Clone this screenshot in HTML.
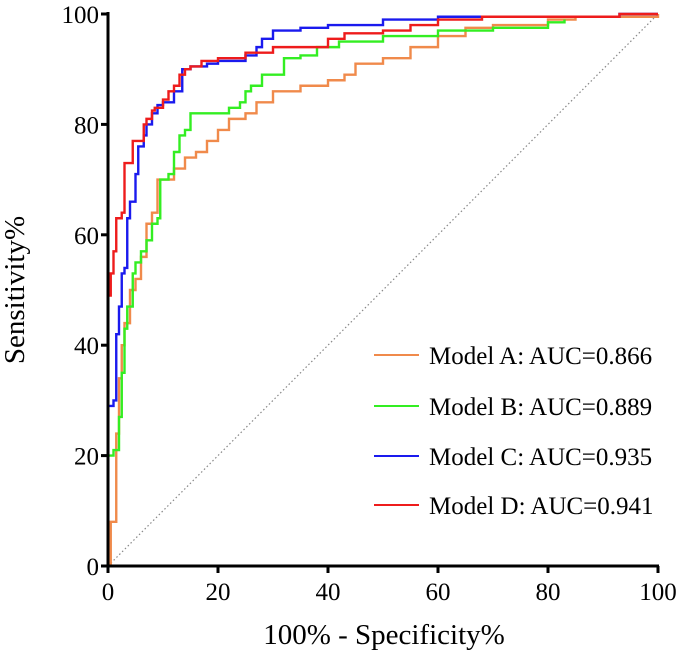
<!DOCTYPE html>
<html><head><meta charset="utf-8"><style>
body{margin:0;background:#fff}
svg text{font-family:"Liberation Serif","DejaVu Serif",serif;fill:#000}
</style></head><body>
<svg width="685" height="663" viewBox="0 0 685 663">
<g id="plot"></g>
</svg>
<script>
const xTicks=[0,20,40,60,80,100];
const yTicks=[0,20,40,60,80,100];
const names=["Model A: AUC=0.866","Model B: AUC=0.889","Model C: AUC=0.935","Model D: AUC=0.941"];
const colors=["#f08a4b","#33ee22","#1a1aee","#ee1c1c"];
const fprA=[0,0.5,1.5,1.5,2,2.5,3,4,5,6,7,8,9,10,12,14,16,18,20,22,25,27,30,35,40,43,45,50,55,60,65,70,80,85,100];
const tprA=[0,8,8,24,34,40,44,50,52,56,62,64,70,70,72,74,75,77,79,81,82,84,86,87,88,89,91,92,94,96,97.5,98,99,99.5,100];
const fprB=[0,0,1,2,2.5,3,3.5,4.5,5,6,7,8,9,9.5,11,12,13,14,15,20,22,24,25,26,28,32,35,38,42,50,60,70,80,83];
const tprB=[0,20,21,27,35,43,47,53,55,57,59,62,63,70,71,75,78,79,82,82,83,84,86,87,89,92,92.5,94,95,96,97,97.5,98.5,99];
const fprC=[0,0,1,1.5,2,2.5,3,3.5,4,5,5.5,6.5,7,8,9,10,12,13.5,15,18,20,25,27,28,30,35,40,50,60,93,100];
const tprC=[0,29,30,42,47,53,54,63,66,71,76,78,80,82,83.5,84,86,90,90.5,91,91.5,92.5,94,95.5,97,97.5,98,99,99.5,100,100];
const fprD=[0,0,0.5,1,1.5,2.5,3,4.5,6.5,7,8,8.5,10,11,12,13,14,15,17,20,25,30,40,43,50,55,60,68,93,100];
const tprD=[0,49,53,57,63,64,73,77,80,81,82.5,83,84.5,86,87,89,90,90.5,91.5,92,93,94,95.5,96.5,97,98,99,99.5,100,100];
const series=[[fprA,tprA],[fprB,tprB],[fprC,tprC],[fprD,tprD]];
const X0=108,X1=658,Y0=566,Y1=14;
const sx=v=>X0+(X1-X0)*v/100, sy=v=>Y0-(Y0-Y1)*v/100;
const NS="http://www.w3.org/2000/svg";
const FF='"Liberation Serif","DejaVu Serif",serif';
const g=document.getElementById('plot');
function mk(t,a,p){const e=document.createElementNS(NS,t);for(const k in a)e.setAttribute(k,a[k]);(p||g).appendChild(e);return e;}
const diag=mk('line',{x1:sx(0),y1:sy(0),x2:sx(100),y2:sy(100),stroke:'#888','stroke-width':1.2,'stroke-dasharray':'1.5,2.5'});


series.forEach((s,i)=>{
  const [fx,ty]=s;let pts=[];
  for(let j=0;j<fx.length;j++){
    if(j>0)pts.push(sx(fx[j])+','+sy(ty[j-1]));
    pts.push(sx(fx[j])+','+sy(ty[j]));
  }
  const pl=mk('polyline',{points:pts.join(' '),fill:'none',stroke:colors[i],'stroke-width':2.4});
  
  
});
const ax=mk('path',{d:`M${X0} ${Y1-2}V${Y0}H${X1+1}`,fill:'none',stroke:'#000','stroke-width':3});


xTicks.forEach(v=>{
  mk('line',{x1:sx(v),x2:sx(v),y1:Y0,y2:Y0+7,stroke:'#000','stroke-width':3});
  const t=mk('text',{x:sx(v),y:Y0+34,'text-anchor':'middle','font-size':25,'font-family':FF});
  t.textContent=v;
  
  
});
yTicks.forEach(v=>{
  mk('line',{x1:X0-7,x2:X0,y1:sy(v),y2:sy(v),stroke:'#000','stroke-width':3});
  const t=mk('text',{x:X0-9,y:sy(v)+9,'text-anchor':'end','font-size':25,'font-family':FF});
  t.textContent=v;
  
  
});
const xt=mk('text',{x:384,y:644,'text-anchor':'middle','font-size':29,'font-family':FF});
xt.textContent='100% - Specificity%';


const yt=mk('text',{x:0,y:0,'text-anchor':'middle','font-size':29,'font-family':FF,transform:'translate(24,290) rotate(-90)'});
yt.textContent='Sensitivity%';


const ly=[355,406,456,505];
names.forEach((n,i)=>{
  const l=mk('line',{x1:374,x2:419,y1:ly[i],y2:ly[i],stroke:colors[i],'stroke-width':2});
  
  
  const t=mk('text',{x:429,y:ly[i]+9,'font-size':25,'font-family':FF});
  t.textContent=n;
  
  
});
</script>
</body></html>
